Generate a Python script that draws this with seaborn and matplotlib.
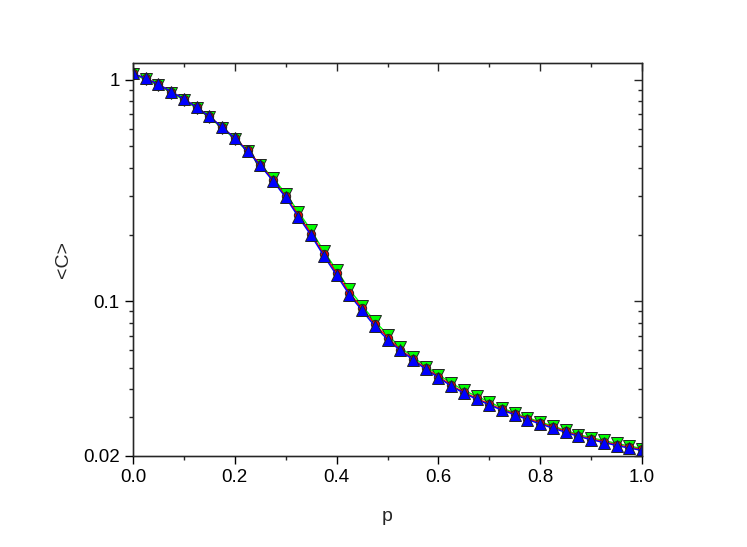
import numpy as np
import matplotlib
matplotlib.use("Agg")
import matplotlib.pyplot as plt
import matplotlib.ticker as mticker
import seaborn as sns

# ==========================================================
# DATA
# ==========================================================
p_values = [i * 0.025 for i in range(41)]

c_green = [1.056, 1.003, 0.943, 0.875, 0.811, 0.743, 0.676, 0.605, 0.540,
           0.475, 0.414, 0.360, 0.306,
           0.253, 0.209, 0.168, 0.138, 0.113, 0.0956, 0.0812, 0.0707,
           0.0618, 0.0561, 0.0507, 0.0466, 0.0427, 0.0396, 0.0372, 0.0351,
           0.0329, 0.0313, 0.0298, 0.0285, 0.0273, 0.0261, 0.0250, 0.0242,
           0.0235, 0.0228, 0.0222, 0.0216]

c_red = [1.067, 1.013, 0.953, 0.884, 0.819, 0.751, 0.683, 0.611, 0.545,
         0.480, 0.414, 0.353, 0.297,
         0.245, 0.202, 0.163, 0.134, 0.109, 0.0927, 0.0787, 0.0685,
         0.0605, 0.0549, 0.0497, 0.0457, 0.0418, 0.0388, 0.0365, 0.0343,
         0.0325, 0.0310, 0.0295, 0.0282, 0.0270, 0.0259, 0.0247, 0.0239,
         0.0232, 0.0225, 0.0219, 0.0214]

c_blue = [1.067, 1.013, 0.953, 0.884, 0.819, 0.751, 0.683, 0.611, 0.545,
          0.475, 0.410, 0.349, 0.294,
          0.240, 0.198, 0.160, 0.131, 0.107, 0.0908, 0.0771, 0.0671,
          0.0599, 0.0544, 0.0492, 0.0452, 0.0414, 0.0384, 0.0361, 0.0340,
          0.0322, 0.0307, 0.0292, 0.0279, 0.0267, 0.0256, 0.0245, 0.0237,
          0.0230, 0.0223, 0.0217, 0.0212]

x_ticks = [0.0, 0.2, 0.4, 0.6, 0.8, 1.0]
y_ticks = [0.02, 0.1, 1]
y_ticklabels = ["0.02", "0.1", "1"]

# ==========================================================
# STYLE
# ==========================================================
sns.set_style("white")
plt.rcParams["font.family"] = ["Liberation Sans", "DejaVu Sans"]
plt.rcParams["font.size"] = 13.5

fig = plt.figure(figsize=(7.47, 5.47), dpi=100)
ax = fig.add_axes([133 / 747, 91 / 547, 509 / 747, 393 / 547])

# ==========================================================
# CURVES
# ==========================================================
series = [
    (c_green, "#00ff00", "v", 8.5),
    (c_red, "#ff0000", "o", 6),
    (c_blue, "#0000ff", "^", 8.5),
]
for vals, col, mk, ms in series:
    sns.lineplot(
        x=p_values, y=vals, ax=ax, color=col, linewidth=1,
        marker=mk, markersize=ms, markeredgecolor="#222222",
        markeredgewidth=0.7, errorbar=None,
    )

ax.set_yscale("log")
ax.set_xlim(0, 1)
ax.set_ylim(0.02, 1.19)

# ==========================================================
# AXES / TICKS
# ==========================================================
ax.set_xticks(x_ticks)
ax.set_xticklabels([f"{t:.1f}" for t in x_ticks])
ax.xaxis.set_minor_locator(mticker.MultipleLocator(0.1))
ax.set_yticks(y_ticks)
ax.set_yticklabels(y_ticklabels)
ax.yaxis.set_minor_locator(mticker.LogLocator(base=10, subs=np.arange(2, 10)))
ax.yaxis.set_minor_formatter(mticker.NullFormatter())

ax.tick_params(which="major", direction="out", length=6, width=1,
               labelsize=13.5, colors="black", left=True, bottom=True)
ax.tick_params(which="minor", direction="out", length=3, width=1,
               left=True, bottom=True)

for s in ax.spines.values():
    s.set_color("black")
    s.set_linewidth(1)

# inward ticks on the right and top
axr = ax.twinx()
axr.set_yscale("log")
axr.set_ylim(ax.get_ylim())
axr.set_yticks(y_ticks)
axr.yaxis.set_minor_locator(mticker.LogLocator(base=10, subs=np.arange(2, 10)))
axr.yaxis.set_minor_formatter(mticker.NullFormatter())
axr.tick_params(which="major", direction="in", length=6, width=1, labelright=False)
axr.tick_params(which="minor", direction="in", length=3, width=1)

axt = ax.twiny()
axt.set_xlim(ax.get_xlim())
axt.set_xticks(x_ticks)
axt.xaxis.set_minor_locator(mticker.MultipleLocator(0.1))
axt.tick_params(which="major", direction="in", length=6, width=1, labeltop=False)
axt.tick_params(which="minor", direction="in", length=3, width=1)

ax.set_xlabel("p", fontsize=14, labelpad=16)
ax.set_ylabel("<C>", fontsize=14, labelpad=8)

fig.savefig("out.png", dpi=100)
